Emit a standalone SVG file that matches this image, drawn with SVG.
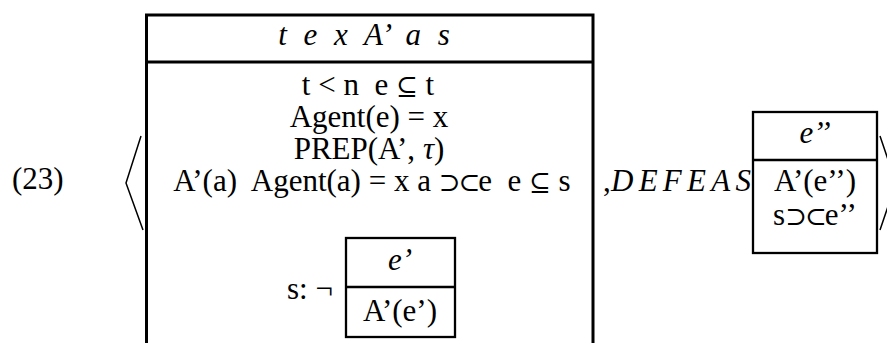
<svg xmlns="http://www.w3.org/2000/svg" width="887" height="343" viewBox="0 0 887 343">
<style>
text{font-family:"Liberation Serif","DejaVu Serif",serif;font-size:31px;fill:#000}
.c{text-anchor:middle}
.i{font-style:italic}
.sym{font-family:"DejaVu Serif",serif;font-size:26px}
.box{fill:none;stroke:#000;stroke-width:3}
.sbox{fill:none;stroke:#000;stroke-width:2.3}
.br{fill:none;stroke:#000;stroke-width:1.5}
</style>
<g id="label"><text x="12" y="189">(23)</text></g>
<g id="connectors">
<polyline class="br" points="141,136 126,183 143,230"/>
<polyline class="br" points="880,136 896,183 880,230"/>
</g>
<g id="main-drs">
<path class="box" d="M146.5,350 V15 H593 V350 M146.5,62 H593"/>
<text class="c i" x="364" y="45" word-spacing="9">t e x A’ a s</text>
<text class="c" x="368" y="95" xml:space="preserve">t &lt; n  e <tspan class="sym">⊆</tspan> t</text>
<text class="c" x="369" y="127">Agent(e) = x</text>
<text class="c" x="369" y="159">PREP(A’, <tspan class="i">τ</tspan>)</text>
<text class="c" x="372" y="191" xml:space="preserve">A’(a)  Agent(a) = x a <tspan class="sym" letter-spacing="-2">⊃⊂</tspan>e  e <tspan class="sym">⊆</tspan> s</text>
<text x="287" y="299">s: ¬</text>
</g>
<g id="neg-drs">
<rect class="sbox" x="346" y="238" width="109" height="99"/>
<line class="sbox" x1="346" y1="287" x2="455" y2="287"/>
<text class="c i" x="400" y="270">e’</text>
<text class="c" x="400" y="321">A’(e’)</text>
</g>
<g id="defeas">
<text x="603" y="191">,<tspan class="i" x="611" textLength="140" lengthAdjust="spacing">DEFEAS</tspan></text>
</g>
<g id="defeas-drs">
<rect class="sbox" x="753" y="112" width="124" height="141"/>
<line class="sbox" x1="753" y1="160" x2="877" y2="160"/>
<text class="c i" x="815" y="143">e’’</text>
<text class="c" x="815" y="191">A’(e’’)</text>
<text class="c" x="815" y="225">s<tspan class="sym" letter-spacing="-2">⊃⊂</tspan>e’’</text>
</g>
</svg>
